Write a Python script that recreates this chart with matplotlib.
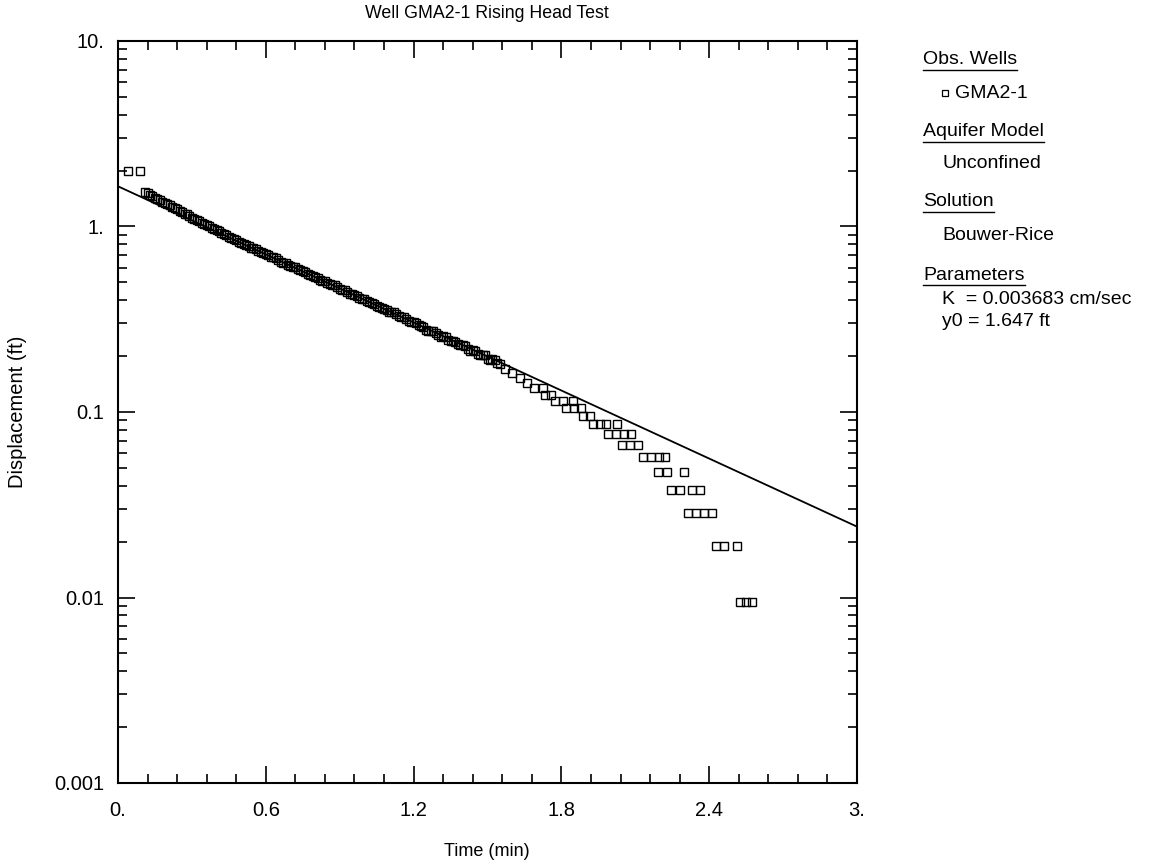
import matplotlib
matplotlib.use("Agg")
import matplotlib.pyplot as plt
from matplotlib.lines import Line2D
from matplotlib.ticker import FixedLocator, LogLocator, NullFormatter, MultipleLocator

plt.rcParams['font.family'] = ['Liberation Sans', 'DejaVu Sans']

# observed data, well GMA2-1 (time in min, displacement in ft)
obs_time = [
    0.04, 0.09,
    0.11, 0.13, 0.15, 0.17, 0.19, 0.21, 0.23, 0.25, 0.27, 0.29,
    0.31, 0.33, 0.35, 0.37, 0.39, 0.41, 0.43, 0.45, 0.47, 0.49,
    0.51, 0.53, 0.55, 0.57, 0.59, 0.61, 0.63, 0.65, 0.67, 0.69,
    0.71, 0.73, 0.75, 0.77, 0.79, 0.81, 0.83, 0.85, 0.87, 0.89,
    0.91, 0.93, 0.95, 0.97, 0.99, 1.01, 1.03, 1.05, 1.07, 1.09,
    1.11, 1.13, 1.15, 1.17, 1.19, 1.21, 1.23, 1.25, 1.27, 1.29,
    1.31, 1.33, 1.35, 1.37, 1.39, 1.41, 1.43, 1.45, 1.47, 1.49,
    1.51, 1.53, 1.55, 1.57, 1.60, 1.63, 1.66, 1.69, 1.726, 1.734,
    1.758, 1.774, 1.807, 1.819, 1.847, 1.851, 1.880, 1.888, 1.916, 1.929,
    1.957, 1.981, 1.989, 2.022, 2.026, 2.046, 2.054, 2.079, 2.083, 2.111,
    2.132, 2.164, 2.192, 2.197, 2.221, 2.229, 2.245, 2.282, 2.298, 2.314,
    2.330, 2.347, 2.363, 2.379, 2.412, 2.428, 2.461, 2.514, 2.525, 2.550,
    2.574,
]
obs_disp = [
    1.98, 1.98,
    1.529, 1.480, 1.432, 1.386, 1.341, 1.301, 1.254, 1.218, 1.174, 1.141,
    1.099, 1.066, 1.034, 1.001, 0.969, 0.942, 0.912, 0.882, 0.858, 0.830,
    0.809, 0.781, 0.763, 0.738, 0.721, 0.698, 0.682, 0.659, 0.638, 0.623,
    0.606, 0.593, 0.573, 0.557, 0.544, 0.526, 0.510, 0.498, 0.484, 0.473,
    0.457, 0.445, 0.430, 0.420, 0.409, 0.399, 0.386, 0.375, 0.362, 0.355,
    0.345, 0.338, 0.326, 0.317, 0.306, 0.300, 0.291, 0.277, 0.272, 0.268,
    0.254, 0.253, 0.240, 0.239, 0.230, 0.226, 0.214, 0.214, 0.203, 0.202,
    0.190, 0.190, 0.181, 0.171, 0.162, 0.152, 0.143, 0.1346, 0.1346, 0.1236,
    0.1236, 0.1146, 0.1146, 0.105, 0.1146, 0.105, 0.105, 0.0951, 0.0951, 0.086,
    0.086, 0.086, 0.0765, 0.0765, 0.086, 0.0665, 0.0765, 0.0665, 0.0765, 0.0665,
    0.057, 0.057, 0.0475, 0.057, 0.057, 0.0475, 0.038, 0.038, 0.0475, 0.0285,
    0.038, 0.0285, 0.038, 0.0285, 0.0285, 0.019, 0.019, 0.019, 0.0095, 0.0095,
    0.0095,
]
# in-between readings of the dense early part
obs_time_mid = [
    0.12, 0.14, 0.16, 0.18, 0.20, 0.22, 0.24, 0.26, 0.28, 0.30,
    0.32, 0.34, 0.36, 0.38, 0.40, 0.42, 0.44, 0.46, 0.48, 0.50,
    0.52, 0.54, 0.56, 0.58, 0.60, 0.62, 0.64, 0.66, 0.68, 0.70,
    0.72, 0.74, 0.76, 0.78, 0.80, 0.82, 0.84, 0.86, 0.88, 0.90,
    0.92, 0.94, 0.96, 0.98, 1.00, 1.02, 1.04, 1.06, 1.08, 1.10,
    1.12, 1.14, 1.16, 1.18, 1.20, 1.22, 1.24, 1.26, 1.28, 1.30,
    1.32, 1.34, 1.36, 1.38, 1.40, 1.42, 1.44, 1.46, 1.48, 1.50,
    1.52, 1.54,
]
obs_disp_mid = [
    1.51, 1.452, 1.412, 1.359, 1.325, 1.272, 1.240, 1.191, 1.161, 1.116,
    1.086, 1.045, 1.021, 0.980, 0.959, 0.924, 0.901, 0.866, 0.847, 0.816,
    0.798, 0.768, 0.753, 0.726, 0.713, 0.686, 0.674, 0.646, 0.634, 0.611,
    0.602, 0.580, 0.568, 0.548, 0.537, 0.515, 0.507, 0.488, 0.481, 0.462,
    0.453, 0.435, 0.428, 0.412, 0.406, 0.390, 0.383, 0.366, 0.361, 0.348,
    0.344, 0.330, 0.324, 0.310, 0.305, 0.293, 0.286, 0.272, 0.272, 0.259,
    0.256, 0.244, 0.242, 0.232, 0.230, 0.218, 0.216, 0.206, 0.204, 0.194,
    0.192, 0.184,
]

# Bouwer-Rice solution line
fit_time = [0.0, 3.0]
fit_disp = [1.647, 0.0241]

x_ticks = [0.0, 0.6, 1.2, 1.8, 2.4, 3.0]
x_tick_labels = ["0.", "0.6", "1.2", "1.8", "2.4", "3."]
y_ticks = [0.001, 0.01, 0.1, 1.0, 10.0]
y_tick_labels = ["0.001", "0.01", "0.1", "1.", "10."]

title = "Well GMA2-1 Rising Head Test"
x_label = "Time (min)"
y_label = "Displacement (ft)"

W, H = 1152, 867
fig = plt.figure(figsize=(W / 100, H / 100), dpi=100)
ax = fig.add_axes([118 / W, 1 - 783 / H, (857 - 118) / W, (783 - 41) / H])

marker_style = dict(linestyle='none', marker='s', markersize=5.2,
                    markerfacecolor='none', markeredgecolor='black', markeredgewidth=1.0)
ax.plot(fit_time, fit_disp, color='black', linewidth=1.3, zorder=3)
ax.plot(obs_time, obs_disp, zorder=2, **marker_style)
ax.plot(obs_time_mid, obs_disp_mid, zorder=2, **marker_style)

ax.set_yscale('log')
ax.set_xlim(0, 3)
ax.set_ylim(0.001, 10)

ax.xaxis.set_major_locator(FixedLocator(x_ticks))
ax.set_xticklabels(x_tick_labels)
ax.xaxis.set_minor_locator(MultipleLocator(0.12))
ax.yaxis.set_major_locator(FixedLocator(y_ticks))
ax.set_yticklabels(y_tick_labels)
ax.yaxis.set_minor_locator(LogLocator(base=10, subs=range(2, 10)))
ax.yaxis.set_minor_formatter(NullFormatter())

ax.tick_params(which='both', direction='in', top=True, right=True, width=1.2, colors='black')
ax.tick_params(which='major', length=12, labelsize=14.5)
ax.tick_params(axis='y', which='major', pad=10)
ax.tick_params(axis='x', which='major', pad=13)
ax.tick_params(which='minor', length=6.5)
for s in ax.spines.values():
    s.set_linewidth(1.5)

fig.text(487 / W, 1 - 13 / H, title, ha='center', va='center', fontsize=12.8)
fig.text(487 / W, 1 - 851 / H, x_label, ha='center', va='center', fontsize=13)
fig.text(18 / W, 1 - 412 / H, y_label, ha='center', va='center', rotation=90, fontsize=14.5)

# legend block on the right
headers = [("Obs. Wells", 60), ("Aquifer Model", 132), ("Solution", 202), ("Parameters", 275)]
items = [("Unconfined", 163), ("Bouwer-Rice", 235),
         ("K  = 0.003683 cm/sec", 300), ("y0 = 1.647 ft", 322)]

fig.canvas.draw()
renderer = fig.canvas.get_renderer()
for txt, ypx in headers:
    t = fig.text(923 / W, 1 - ypx / H, txt, ha='left', va='center', fontsize=14)
    bb = t.get_window_extent(renderer)
    yline = (bb.y0 - 1) / H
    fig.add_artist(Line2D([bb.x0 / W, bb.x1 / W], [yline, yline], color='black', linewidth=1.0))
for txt, ypx in items:
    fig.text(942 / W, 1 - ypx / H, txt, ha='left', va='center', fontsize=14)

fig.add_artist(Line2D([945 / W], [1 - 93 / H], marker='s', markersize=4.5,
                      markerfacecolor='none', markeredgecolor='black', markeredgewidth=0.9))
fig.text(955 / W, 1 - 93 / H, "GMA2-1", ha='left', va='center', fontsize=14)

fig.savefig("out.png", dpi=100)
